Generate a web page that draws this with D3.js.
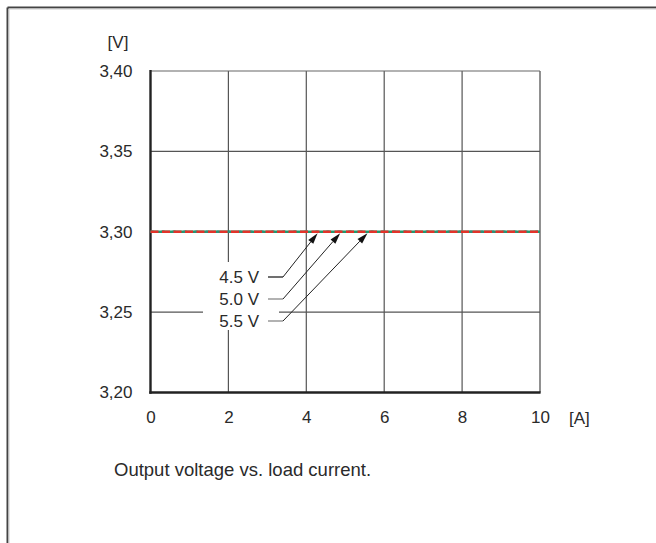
<!DOCTYPE html>
<html><head><meta charset="utf-8">
<script src="https://cdn.jsdelivr.net/npm/d3@7/dist/d3.min.js"></script>
<style>
html,body{margin:0;padding:0;background:#fff;}
svg{display:block;}
text{font-family:"Liberation Sans",Arial,Helvetica,sans-serif;fill:#2a2a2a;}
</style></head>
<body>
<script>
// ---- data ----
const xTicks = [0, 2, 4, 6, 8, 10];
const yTicks = [3.20, 3.25, 3.30, 3.35, 3.40];
const loadCurrent = [0, 2, 4, 6, 8, 10];
const vout45 = [3.30, 3.30, 3.30, 3.30, 3.30, 3.30];
const vout50 = [3.30, 3.30, 3.30, 3.30, 3.30, 3.30];
const vout55 = [3.30, 3.30, 3.30, 3.30, 3.30, 3.30];
const seriesNames = ["4.5 V", "5.0 V", "5.5 V"];
const arrowTipsX = [4.29, 4.87, 5.57];
const xUnit = "[A]", yUnit = "[V]";
const caption = "Output voltage vs. load current.";

const W = 656, H = 543;
const FS = 17;
const svg = d3.select("body").append("svg").attr("width", W).attr("height", H);

// frame
svg.append("line").attr("x1", 7.5).attr("x2", W).attr("y1", 7.5).attr("y2", 7.5).attr("stroke", "#444").attr("stroke-width", 2);
svg.append("line").attr("x1", 7.5).attr("x2", 7.5).attr("y1", 7.5).attr("y2", H).attr("stroke", "#444").attr("stroke-width", 2);
svg.append("line").attr("x1", 9).attr("x2", W).attr("y1", 9).attr("y2", 9).attr("stroke", "#ccc").attr("stroke-width", 1);
svg.append("line").attr("x1", 9).attr("x2", 9).attr("y1", 9).attr("y2", H).attr("stroke", "#ccc").attr("stroke-width", 1);

const x = d3.scaleLinear().domain([0, 10]).range([150.5, 540]);
const y = d3.scaleLinear().domain([3.20, 3.40]).range([392.5, 71]);

const g = svg.append("g");

// grid
g.selectAll(".vg").data(xTicks.filter(d => d > 0)).join("line")
  .attr("x1", d => x(d)).attr("x2", d => x(d)).attr("y1", y(3.40)).attr("y2", y(3.20))
  .attr("stroke", "#555").attr("stroke-width", d => d === 10 ? 1.3 : 1.2);
g.selectAll(".hg").data(yTicks.filter(d => d > 3.2)).join("line")
  .attr("x1", x(0)).attr("x2", x(10)).attr("y1", d => y(d)).attr("y2", d => y(d))
  .attr("stroke", d => d === 3.40 ? "#666" : "#555").attr("stroke-width", 1.2);

// white box behind labels
g.append("rect").attr("x", 203).attr("y", 262).attr("width", 76).attr("height", 68).attr("fill", "#fff");

// main axes
g.append("line").attr("x1", x(0)).attr("x2", x(0)).attr("y1", y(3.40) - 1).attr("y2", y(3.20) + 1.2)
  .attr("stroke", "#222").attr("stroke-width", 2.4);
g.append("line").attr("x1", x(0) - 1.2).attr("x2", x(10) + 0.6).attr("y1", y(3.20)).attr("y2", y(3.20))
  .attr("stroke", "#222").attr("stroke-width", 2.4);

// axis labels via d3 axes
const fmt = d => d3.format(".2f")(d).replace(".", ",");
const ya = svg.append("g").attr("transform", `translate(${x(0) - 18},0)`)
  .call(d3.axisLeft(y).tickValues(yTicks).tickSize(0).tickPadding(0).tickFormat(fmt));
ya.select(".domain").remove();
ya.selectAll("text").attr("font-size", FS).attr("fill", "#2a2a2a").style("font-family", '"Liberation Sans",Arial,sans-serif');

const xa = svg.append("g").attr("transform", `translate(0,${y(3.20) + 18})`)
  .call(d3.axisBottom(x).tickValues(xTicks).tickSize(0).tickPadding(0).tickFormat(d3.format("d")));
xa.select(".domain").remove();
xa.selectAll("text").attr("font-size", FS).attr("fill", "#2a2a2a").attr("dy", "0.71em").style("font-family", '"Liberation Sans",Arial,sans-serif');

svg.append("text").attr("x", 569).attr("y", 424).attr("font-size", FS).text(xUnit);
svg.append("text").attr("x", 118).attr("y", 48).attr("font-size", FS).attr("text-anchor", "middle").text(yUnit);

// series lines
const line = d3.line().x((d, i) => x(loadCurrent[i])).y(d => y(d));
g.append("path").datum(vout45).attr("d", line).attr("fill", "none").attr("stroke", "#1f9a6e").attr("stroke-width", 2.6);
g.append("path").datum(vout50).attr("d", line).attr("fill", "none").attr("stroke", "#2e8f7a").attr("stroke-width", 2.6).attr("stroke-dasharray", "3,8");
g.append("path").datum(vout55).attr("d", line).attr("fill", "none").attr("stroke", "#e2332a").attr("stroke-width", 2.6).attr("stroke-dasharray", "8,3.5");

// labels + leaders
const labelY = [277, 299, 321];
const leaderColor = ["#222", "#888", "#888"];
seriesNames.forEach((name, i) => {
  svg.append("text").attr("x", 259).attr("y", labelY[i]).attr("dy", "0.36em").attr("text-anchor", "end")
    .attr("font-size", FS).text(name);
  svg.append("line").attr("x1", 268).attr("x2", 283).attr("y1", labelY[i]).attr("y2", labelY[i])
    .attr("stroke", leaderColor[i]).attr("stroke-width", 1.3);
  const tx = x(arrowTipsX[i]), ty = y(3.30) + 1.5;
  const sx = 283, sy = labelY[i];
  const ang = Math.atan2(ty - sy, tx - sx);
  const L = 11, Wd = 3.2;
  const bx = tx - L * Math.cos(ang), by = ty - L * Math.sin(ang);
  svg.append("line").attr("x1", sx).attr("y1", sy).attr("x2", bx).attr("y2", by)
    .attr("stroke", "#222").attr("stroke-width", 1);
  const px = -Math.sin(ang) * Wd, py = Math.cos(ang) * Wd;
  svg.append("path").attr("d", `M${tx},${ty}L${bx + px},${by + py}L${bx - px},${by - py}Z`).attr("fill", "#111");
});

// caption
svg.append("text").attr("x", 114).attr("y", 476).attr("font-size", 18.5).text(caption);
</script>
</body></html>
